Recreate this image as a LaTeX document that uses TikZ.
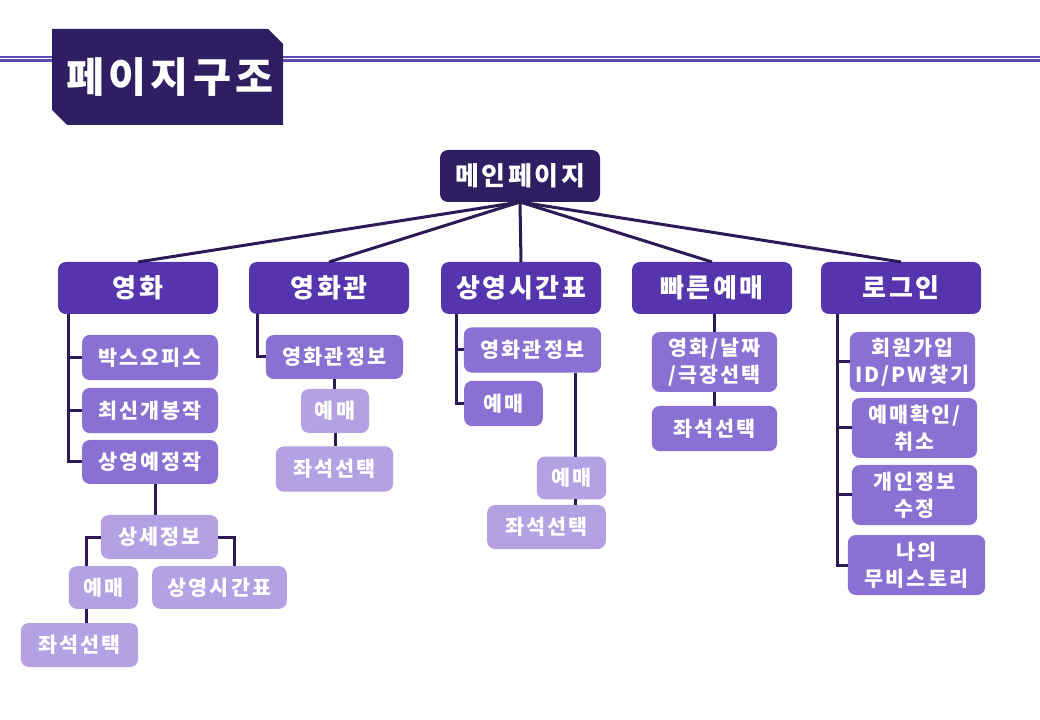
\documentclass[tikz,border=0pt]{standalone}
\usepackage{fontspec}
\newfontfamily\krfont{Noto Sans CJK KR}[LetterSpace=10]
\usetikzlibrary{calc}

\definecolor{navydeep}{HTML}{2E1E62}
\definecolor{plumone}{HTML}{5634AE}
\definecolor{plumtwo}{HTML}{8B70D3}
\definecolor{plumthree}{HTML}{B3A1E3}
\definecolor{linkink}{HTML}{2B1A55}
\definecolor{ruleink}{HTML}{5B4BB2}

\tikzset{
  pagebox/.style={rounded corners=6pt, outer sep=0pt, inner sep=0pt, text=white, align=center,
    font=\krfont\bfseries\fontsize{15.5}{20}\selectfont},
  topbox/.style={pagebox, fill=navydeep, minimum width=120pt, minimum height=39pt,
    font=\krfont\bfseries\fontsize{19.5}{22}\selectfont},
  onebox/.style={pagebox, fill=plumone, minimum width=120pt, minimum height=39pt,
    font=\krfont\bfseries\fontsize{19.5}{22}\selectfont},
  twobox/.style={pagebox, fill=plumtwo},
  threebox/.style={pagebox, fill=plumthree},
  link/.style={draw=linkink, line width=2.25pt}
}

\begin{document}
\begin{tikzpicture}[x=0.75pt,y=-0.75pt]
    \useasboundingbox (0,0) rectangle (1040,720);
    % header rule and title
    \draw[ruleink, line width=0.9pt] (0,57) -- (1040,57);
    \draw[ruleink, line width=2pt] (0,60.5) -- (1040,60.5);
    \fill[navydeep] (52,29) -- (268,29) -- (283,44) -- (283,125) -- (67,125) -- (52,110) -- cycle;
    \node[text=white, font=\krfont\bfseries\fontsize{31}{34}\selectfont] (title) at (170,77) {페이지구조};

    % main page and first level
    \node[topbox] (main) at (520,176) {메인페이지};
    \node[onebox] (movie) at (138,288) {영화};
    \node[onebox] (theater) at (329,288) {영화관};
    \node[onebox] (sched) at (521,288) {상영시간표};
    \node[onebox] (quick) at (712,288) {빠른예매};
    \node[onebox] (login) at (901,288) {로그인};

    % movie column
    \node[twobox, minimum width=102pt, minimum height=34pt] (boxoff) at (150,357.5) {박스오피스};
    \node[twobox, minimum width=102pt, minimum height=34pt] (newrel) at (150,410.5) {최신개봉작};
    \node[twobox, minimum width=102pt, minimum height=33pt] (upcoming) at (150,462) {상영예정작};
    \node[threebox, minimum width=88pt, minimum height=33pt] (detail) at (159.5,537) {상세정보};
    \node[threebox, minimum width=52pt, minimum height=32pt] (mvbook) at (103.5,587.5) {예매};
    \node[threebox, minimum width=101pt, minimum height=32pt] (mvsched) at (219.5,587.5) {상영시간표};
    \node[threebox, minimum width=88pt, minimum height=33pt] (mvseat) at (79.5,645) {좌석선택};

    % theater column
    \node[twobox, minimum width=103pt, minimum height=33pt] (thinfo) at (334.5,357) {영화관정보};
    \node[threebox, minimum width=51pt, minimum height=33pt] (thbook) at (335,411) {예매};
    \node[threebox, minimum width=88pt, minimum height=34pt] (thseat) at (334.5,469) {좌석선택};

    % schedule column
    \node[twobox, minimum width=103pt, minimum height=34pt] (scinfo) at (532.5,350) {영화관정보};
    \node[twobox, minimum width=59pt, minimum height=34pt] (scbook) at (503.5,403.5) {예매};
    \node[threebox, minimum width=52pt, minimum height=32pt] (scbookb) at (571.5,478) {예매};
    \node[threebox, minimum width=89pt, minimum height=33pt] (scseat) at (546.5,527) {좌석선택};

    % quick booking column
    \node[twobox, minimum width=94pt, minimum height=45pt] (qkpick) at (714.5,362) {영화/날짜\\/극장선택};
    \node[twobox, minimum width=94pt, minimum height=34pt] (qkseat) at (714.5,428.5) {좌석선택};

    % login column
    \node[twobox, minimum width=94pt, minimum height=45pt] (join) at (912.5,362) {회원가입\\ID/PW찾기};
    \node[twobox, minimum width=94pt, minimum height=45pt] (check) at (914.5,428) {예매확인/\\취소};
    \node[twobox, minimum width=94pt, minimum height=45pt] (profile) at (914.5,495) {개인정보\\수정};
    \node[twobox, minimum width=103pt, minimum height=45pt] (story) at (916.5,565) {나의\\무비스토리};

    % connectors from main page
    \foreach \target in {movie,theater,sched,quick,login}
      \draw[link] (main.south) -- (\target.north);

    % movie column connectors
    \foreach \target in {boxoff,newrel,upcoming}
      \draw[link] (movie.south west) ++(10,0) |- (\target.west);
    \draw[link] ([xshift=3.75pt]upcoming.south) -- ([xshift=3.75pt]upcoming.south |- detail.north);
    \draw[link] (detail.west) -| ([xshift=-12.4pt]mvbook.north);
    \draw[link] (detail.east) -| ([xshift=11.6pt]mvsched.north);
    \draw[link] ([xshift=-12.4pt]mvbook.south) -- ([xshift=-12.4pt]mvbook.south |- mvseat.north);

    % theater column connectors
    \draw[link] (theater.south west) ++(8,0) |- (thinfo.west);
    \draw[link] (thinfo.south) -- (thinfo.south |- thbook.north);
    \draw[link] (thbook.south) -- (thbook.south |- thseat.north);

    % schedule column connectors
    \foreach \target in {scinfo,scbook}
      \draw[link] (sched.south west) ++(15,0) |- (\target.west);
    \draw[link] ([xshift=32pt]scinfo.south) -- ([xshift=32pt]scinfo.south |- scbookb.north);
    \draw[link] ([xshift=32pt]scinfo.south |- scbookb.south) -- ([xshift=32pt]scinfo.south |- scseat.north);

    % quick booking connectors
    \draw[link] (qkpick.north |- quick.south) -- (qkpick.north);
    \draw[link] (qkpick.south) -- (qkseat.north);

    % login column connectors
    \foreach \target in {join,check,profile,story}
      \draw[link] (login.south west) ++(16,0) |- (\target.west);
\end{tikzpicture}
\end{document}
